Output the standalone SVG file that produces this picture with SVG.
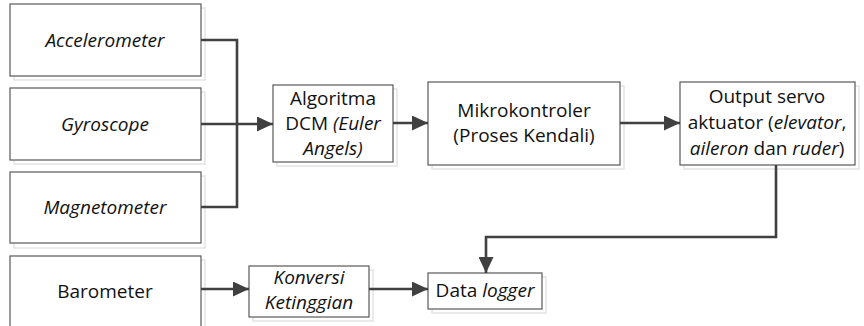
<svg xmlns="http://www.w3.org/2000/svg" width="864" height="326" viewBox="0 0 864 326">
  <style>
    .box { fill: #ffffff; stroke: #595959; stroke-width: 1.2; }
    .shadow { fill: none; stroke: #e4e4e4; stroke-width: 1.5; }
    .lbl { font-family: "Open Sans", "Liberation Sans", sans-serif; font-size: 19px; fill: #111111; text-anchor: middle; }
    .it { font-style: italic; }
    .wire { fill: none; stroke: #404040; stroke-width: 2.6; }
  </style>
  <defs>
    <marker id="arrow" markerWidth="16" markerHeight="15" refX="16" refY="7.5" orient="auto" markerUnits="userSpaceOnUse" viewBox="0 0 16 15">
      <path d="M0,0 L16,7.5 L0,15 z" fill="#404040"/>
    </marker>
  </defs>
  <rect width="864" height="326" fill="#ffffff"/>

  <g id="accelerometer">
    <rect class="shadow" x="14" y="8" width="191" height="72"/>
    <rect class="box" x="10" y="4" width="191" height="72"/>
    <text class="lbl it" x="105" y="47">Accelerometer</text>
  </g>
  <g id="gyroscope">
    <rect class="shadow" x="14" y="92" width="191" height="72"/>
    <rect class="box" x="10" y="88" width="191" height="72"/>
    <text class="lbl it" x="105" y="131">Gyroscope</text>
  </g>
  <g id="magnetometer">
    <rect class="shadow" x="14" y="176" width="191" height="72"/>
    <rect class="box" x="10" y="172" width="191" height="71"/>
    <text class="lbl it" x="105" y="214">Magnetometer</text>
  </g>
  <g id="barometer">
    <rect class="shadow" x="14" y="260" width="191" height="72"/>
    <rect class="box" x="10" y="256" width="191" height="80"/>
    <text class="lbl" x="105" y="298">Barometer</text>
  </g>
  <g id="algoritma-dcm">
    <rect class="shadow" x="277" y="89" width="120" height="77"/>
    <rect class="box" x="273" y="85" width="120" height="77"/>
    <text class="lbl" x="333" y="105">Algoritma</text>
    <text class="lbl" x="333" y="130">DCM <tspan class="it">(Euler</tspan></text>
    <text class="lbl it" x="333" y="155">Angels)</text>
  </g>
  <g id="mikrokontroler">
    <rect class="shadow" x="432" y="86" width="192" height="83"/>
    <rect class="box" x="428" y="82" width="192" height="83"/>
    <text class="lbl" x="524" y="117">Mikrokontroler</text>
    <text class="lbl" x="524" y="142">(Proses Kendali)</text>
  </g>
  <g id="output-servo">
    <rect class="shadow" x="684" y="86" width="175" height="83"/>
    <rect class="box" x="680" y="82" width="175" height="83"/>
    <text class="lbl" x="767" y="103">Output servo</text>
    <text class="lbl" x="767" y="129">aktuator (<tspan class="it">elevator</tspan>,</text>
    <text class="lbl" x="767" y="155"><tspan class="it">aileron</tspan> dan <tspan class="it">ruder</tspan>)</text>
  </g>
  <g id="konversi-ketinggian">
    <rect class="shadow" x="253" y="270" width="120" height="51"/>
    <rect class="box" x="249" y="266" width="120" height="51"/>
    <text class="lbl it" x="309" y="284">Konversi</text>
    <text class="lbl it" x="309" y="309">Ketinggian</text>
  </g>
  <g id="data-logger">
    <rect class="shadow" x="432" y="277" width="114" height="36"/>
    <rect class="box" x="428" y="273" width="114" height="36"/>
    <text class="lbl" x="485" y="297">Data <tspan class="it">logger</tspan></text>
  </g>

  <g id="connectors">
    <polyline class="wire" points="201,40 237,40 237,207 201,207"/>
    <line class="wire" x1="201" y1="124" x2="273" y2="124" marker-end="url(#arrow)"/>
    <line class="wire" x1="393" y1="123" x2="428" y2="123" marker-end="url(#arrow)"/>
    <line class="wire" x1="620" y1="123" x2="680" y2="123" marker-end="url(#arrow)"/>
    <polyline class="wire" points="776,165 776,237 486,237 486,273" marker-end="url(#arrow)"/>
    <line class="wire" x1="201" y1="289" x2="249" y2="289" marker-end="url(#arrow)"/>
    <line class="wire" x1="369" y1="289" x2="428" y2="289" marker-end="url(#arrow)"/>
  </g>
</svg>
